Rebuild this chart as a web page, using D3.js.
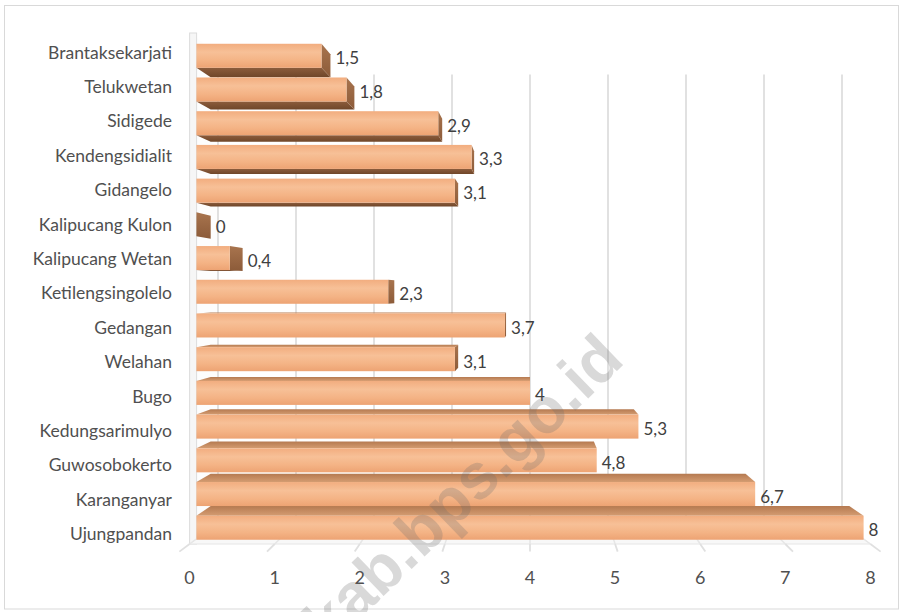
<!DOCTYPE html>
<html><head><meta charset="utf-8">
<script src="https://cdn.jsdelivr.net/npm/d3@7"></script>
<style>html,body{margin:0;padding:0;background:#fff;}svg{display:block;}</style>
</head><body>
<script>
// ---- data ----
const categories = ["Brantaksekarjati","Telukwetan","Sidigede","Kendengsidialit","Gidangelo","Kalipucang Kulon","Kalipucang Wetan","Ketilengsingolelo","Gedangan","Welahan","Bugo","Kedungsarimulyo","Guwosobokerto","Karanganyar","Ujungpandan"];
const values = [1.5,1.8,2.9,3.3,3.1,0,0.4,2.3,3.7,3.1,4,5.3,4.8,6.7,8];
const valueLabels = ["1,5","1,8","2,9","3,3","3,1","0","0,4","2,3","3,7","3,1","4","5,3","4,8","6,7","8"];
const xTicks = [0,1,2,3,4,5,6,7,8];
const watermark = "jeparakab.bps.go.id";

const W = 902, H = 612;
const svg = d3.select("body").append("svg").attr("width", W).attr("height", H);

// perspective setup
const VX = 530, VY = 290;
const T_BAR_F = 0.98, T_BAR_B = 0.938, T_WALL = 0.9166;
const x = d3.scaleLinear().domain([0, 8]).range([189.6, 870.4]);
const y = d3.scalePoint().domain(categories).range([51, 532.6]);
const HALF = 12.25;
const Y_TOP = 33, Y_FLOOR = 544;
function P(v, yy, t) { return [VX + (x(v) - VX) * t, VY + (yy - VY) * t]; }
function poly(pts) { return "M" + pts.map(p => p[0].toFixed(2) + "," + p[1].toFixed(2)).join("L") + "Z"; }

const defs = svg.append("defs");
function grad(id, stops) {
  const g = defs.append("linearGradient").attr("id", id).attr("x1", 0).attr("y1", 0).attr("x2", 0).attr("y2", 1);
  stops.forEach(s => g.append("stop").attr("offset", s[0]).attr("stop-color", s[1]));
}
grad("gFront", [[0, "#f2ad7f"], [0.35, "#f7c097"], [0.7, "#f4b385"], [1, "#eda373"]]);
grad("gEnd", [[0, "#a8744e"], [1, "#8c5b39"]]);
grad("gBottom", [[0, "#8c5c3c"], [1, "#6f4629"]]);
grad("gTop", [[0, "#b57a51"], [1, "#d49c71"]]);

// outer border
svg.append("rect").attr("x", 4.5).attr("y", 5.5).attr("width", 894).attr("height", 603.5)
  .attr("fill", "#fff").attr("stroke", "#d9d9d9");

// left side wall
const wall = svg.append("g");
wall.append("path").attr("d", poly([P(0, Y_TOP, 1), P(0, Y_TOP, T_WALL), P(0, Y_FLOOR, T_WALL), P(0, Y_FLOOR, 1)]))
  .attr("fill", "#fdfdfd").attr("stroke", "none");
wall.append("rect").attr("x", x(0)).attr("y", Y_TOP).attr("width", 7).attr("height", Y_FLOOR - Y_TOP)
  .attr("fill", "#f6f6f6").attr("stroke", "#dcdcdc").attr("stroke-width", 1);

// floor
svg.append("path").attr("d", poly([P(0, Y_FLOOR, T_WALL), P(8, Y_FLOOR, T_WALL), P(8, Y_FLOOR, 1), P(0, Y_FLOOR, 1)]))
  .attr("fill", "#f8f8f8").attr("stroke", "#e6e6e6");

// back wall gridlines + floor lines/ticks
const grid = svg.append("g");
xTicks.forEach(v => {
  const a = P(v, Y_TOP + 22, T_WALL), b = P(v, Y_FLOOR, T_WALL);
  grid.append("line").attr("x1", a[0]).attr("y1", a[1]).attr("x2", b[0]).attr("y2", b[1])
    .attr("stroke", "#dedede").attr("stroke-width", 1.8);
  const c = P(v, Y_FLOOR, 1.0), d = P(v, Y_FLOOR, 1.03);
  grid.append("line").attr("x1", b[0]).attr("y1", b[1]).attr("x2", c[0]).attr("y2", c[1])
    .attr("stroke", "#e6e6e6").attr("stroke-width", 1.5);
  grid.append("line").attr("x1", c[0]).attr("y1", c[1]).attr("x2", d[0]).attr("y2", d[1])
    .attr("stroke", "#e0e0e0").attr("stroke-width", 1.8);
});

// bars
const rows = categories.map((c, i) => ({ c, v: values[i], lab: valueLabels[i], yc: y(c) }));
const order = rows.slice().sort((a, b) => Math.abs(b.yc - VY) - Math.abs(a.yc - VY));
const barsG = svg.append("g");
order.forEach(r => {
  const yT = r.yc - HALF, yB = r.yc + HALF, v = r.v;
  const g = barsG.append("g");
  if (yB < VY) {
    g.append("path").attr("d", poly([P(0, yB, T_BAR_F), P(v, yB, T_BAR_F), P(v, yB, T_BAR_B), P(0, yB, T_BAR_B)]))
      .attr("fill", "url(#gBottom)");
  }
  if (yT > VY) {
    g.append("path").attr("d", poly([P(0, yT, T_BAR_B), P(v, yT, T_BAR_B), P(v, yT, T_BAR_F), P(0, yT, T_BAR_F)]))
      .attr("fill", "url(#gTop)");
  }
  if (x(v) < VX) {
    g.append("path").attr("d", poly([P(v, yT, T_BAR_F), P(v, yT, T_BAR_B), P(v, yB, T_BAR_B), P(v, yB, T_BAR_F)]))
      .attr("fill", "url(#gEnd)");
  }
  if (v > 0) {
    const p0 = P(0, yT, T_BAR_F), p1 = P(v, yB, T_BAR_F);
    g.append("rect").attr("x", p0[0]).attr("y", p0[1]).attr("width", p1[0] - p0[0]).attr("height", p1[1] - p0[1])
      .attr("fill", "url(#gFront)");
  }
});

const FONT = "Lato, 'Open Sans', sans-serif";
// data labels
const labG = svg.append("g").attr("font-family", FONT).attr("font-size", 17).attr("fill", "#404040");
rows.forEach(r => {
  const f = P(r.v, r.yc, T_BAR_F), b = P(r.v, r.yc, T_BAR_B);
  labG.append("text").attr("x", Math.max(f[0], b[0]) + 5).attr("y", f[1] + 2)
    .attr("dominant-baseline", "central").text(r.lab);
});

// category labels
const catG = svg.append("g").attr("font-family", FONT).attr("font-size", 17.5).attr("fill", "#505050");
rows.forEach(r => {
  catG.append("text").attr("x", 172).attr("y", r.yc + 1).attr("text-anchor", "end")
    .attr("dominant-baseline", "central").text(r.c);
});

// x axis labels
const axG = svg.append("g").attr("font-family", FONT).attr("font-size", 18).attr("fill", "#505050");
xTicks.forEach(v => {
  axG.append("text").attr("x", x(v)).attr("y", 577).attr("text-anchor", "middle")
    .attr("dominant-baseline", "central").text(d3.format("d")(v));
});

// watermark
svg.append("text").attr("transform", "translate(626,362) rotate(-44)")
  .attr("text-anchor", "end").attr("font-family", "'Liberation Sans', Arial, sans-serif")
  .attr("font-weight", "bold").attr("font-size", 64).attr("fill", "rgba(110,110,110,0.26)")
  .text(watermark);
</script>
</body></html>
